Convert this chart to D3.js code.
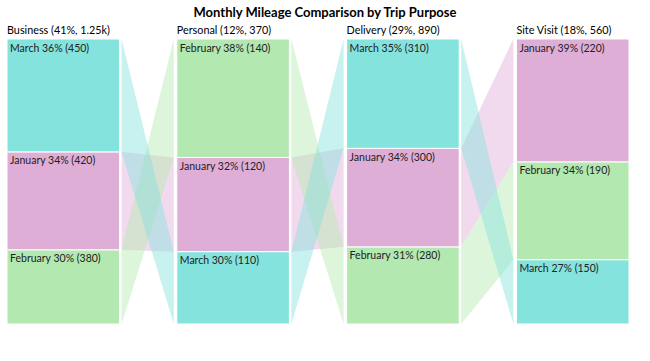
<!DOCTYPE html>
<html>
<head>
<meta charset="utf-8">
<script src="https://cdn.jsdelivr.net/npm/d3@7"></script>
<style>
  body { margin: 0; background: #fff; }
  text { font-family: "Segoe UI", Lato, "Noto Sans", sans-serif; }
</style>
</head>
<body>
<div id="chart"></div>
<script>
// data
var purposes = ["Business", "Personal", "Delivery", "Site Visit"];
var months = ["January", "February", "March"];
var business  = [420, 380, 450];
var personal  = [120, 140, 110];
var delivery  = [300, 280, 310];
var siteVisit = [220, 190, 150];
var monthColors = ["#dfaed6", "#b3e8b0", "#84e3dc"];

var series = [business, personal, delivery, siteVisit];

var width = 650, height = 361;
var yTop = 39, yBottom = 324;

var svg = d3.select("#chart").append("svg")
  .attr("width", width)
  .attr("height", height);

var color = d3.scaleOrdinal().domain(months).range(monthColors);

var x = d3.scaleBand()
  .domain(purposes)
  .range([7, 629])
  .paddingInner(0.337);

// stacking is done on share of column total, smallest at the bottom
var y = d3.scalePow().exponent(1.13)
  .domain([0, 1])
  .range([yBottom, yTop]);

var grand = d3.sum(series, function(s){ return d3.sum(s); });
var fmtTotal = d3.format(".3~s");

var columns = purposes.map(function(p, i){
  var vals = series[i];
  var total = d3.sum(vals);
  var segs = months.map(function(m, j){ return {month: m, value: vals[j], share: vals[j] / total}; });
  segs.sort(function(a, b){ return a.value - b.value; });
  var cum = 0;
  segs.forEach(function(s){
    s.y0 = y(cum);
    cum += s.share;
    s.y1 = y(cum);
  });
  var byMonth = {};
  segs.forEach(function(s){ byMonth[s.month] = s; });
  return {name: p, total: total, segs: segs, byMonth: byMonth, x: x(p)};
});

// ribbons
var bw = x.bandwidth();
var ribbons = svg.append("g").attr("class", "ribbons");
for (var i = 0; i < columns.length - 1; i++) {
  var a = columns[i], b = columns[i + 1];
  var xa = a.x + bw + 2, xb = b.x - 3;
  months.forEach(function(m){
    var sa = a.byMonth[m], sb = b.byMonth[m];
    ribbons.append("path")
      .attr("d", "M" + xa + "," + sa.y1 + "L" + xb + "," + sb.y1 +
                 "L" + xb + "," + sb.y0 + "L" + xa + "," + sa.y0 + "Z")
      .attr("fill", color(m))
      .attr("fill-opacity", 0.45);
  });
}

// bars
var col = svg.selectAll("g.col")
  .data(columns)
  .enter().append("g")
  .attr("class", "col");

col.selectAll("rect")
  .data(function(d){ return d.segs.map(function(s){ return {col: d, seg: s}; }); })
  .enter().append("rect")
  .attr("x", function(d){ return d.col.x; })
  .attr("y", function(d){ return d.seg.y1; })
  .attr("width", bw)
  .attr("height", function(d){ return d.seg.y0 - d.seg.y1; })
  .attr("fill", function(d){ return color(d.seg.month); })
  .attr("stroke", "#fff")
  .attr("stroke-width", 1);

col.selectAll("text.seg")
  .data(function(d){ return d.segs.map(function(s){ return {col: d, seg: s}; }); })
  .enter().append("text")
  .attr("class", "seg")
  .attr("x", function(d){ return d.col.x + 3; })
  .attr("y", function(d){ return d.seg.y1 + 12.5; })
  .attr("font-size", 10.5)
  .attr("fill", "#222")
  .text(function(d){
    return d.seg.month + " " + Math.round(d.seg.share * 100) + "% (" + d.seg.value + ")";
  });

// column headers
col.append("text")
  .attr("x", function(d){ return d.x; })
  .attr("y", 34)
  .attr("font-size", 10.8)
  .attr("fill", "#000")
  .text(function(d){
    return d.name + " (" + Math.round(d.total / grand * 100) + "%, " + fmtTotal(d.total) + ")";
  });

// title
svg.append("text")
  .attr("x", 325)
  .attr("y", 17)
  .attr("text-anchor", "middle")
  .attr("font-size", 13)
  .attr("font-weight", "bold")
  .attr("fill", "#000")
  .text("Monthly Mileage Comparison by Trip Purpose");
</script>
</body>
</html>
